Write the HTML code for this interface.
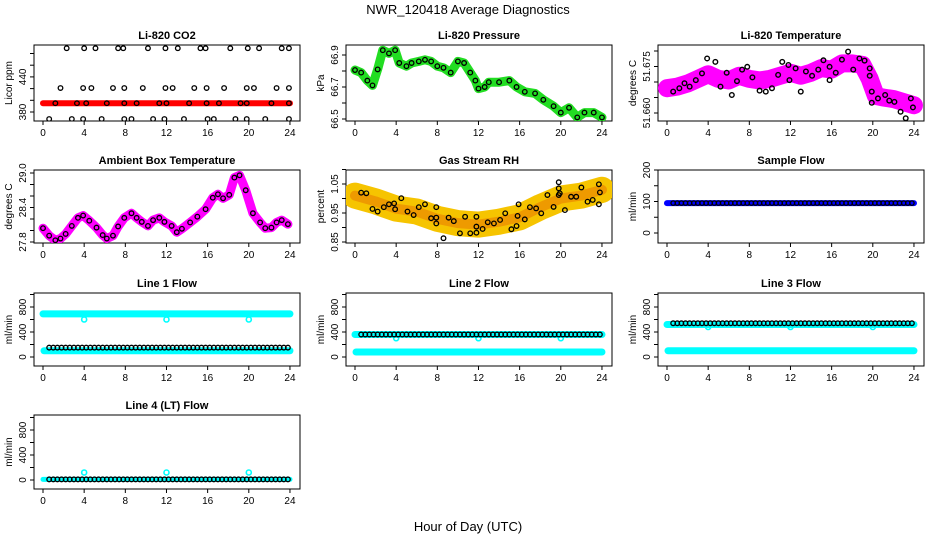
<!DOCTYPE html>
<html><head><meta charset="utf-8">
<style>
html,body{margin:0;padding:0;background:#fff;}
svg{display:block;font-family:"Liberation Sans",Arial,sans-serif;}
</style></head>
<body>
<svg id="chart" width="936" height="540" viewBox="0 0 936 540">
<text x="468" y="14" text-anchor="middle" font-size="13">NWR_120418  Average Diagnostics</text>
<text x="468" y="531" text-anchor="middle" font-size="13">Hour of Day (UTC)</text>
</svg>
<script>
// ---------------- data ----------------
const xTicks = [0,4,8,12,16,20,24];

// CO2 (ppm)
const co2Hours = [0,24];
const co2Band = [395,395];
const co2TopHours = [2.3,4.0,5.1,7.3,7.8,10.2,11.9,13.1,15.3,15.8,18.2,19.9,21.0,23.2,23.9];
const co2MidHours = [1.7,3.9,4.7,6.8,7.9,9.7,11.9,12.6,14.7,15.9,17.6,19.8,20.5,22.7,23.9];
const co2LineHours = [1.2,3.3,4.2,6.2,7.9,9.1,11.3,12.0,14.2,15.9,17.1,19.2,19.8,22.2,23.9];
const co2LowHours = [0.6,2.8,3.9,5.7,7.9,8.6,10.7,11.8,13.7,16.0,16.6,18.7,19.8,21.6,23.9];
const co2Levels = [489,421,395,368];

// Pressure (kPa)
const presHours = [0,0.6,1.2,1.7,2.2,2.7,3.3,3.9,4.3,5,5.5,6.2,6.8,7.4,8,8.6,9.3,10,10.6,11.2,11.7,12,12.6,13,14,15,15.7,16.5,17.5,18.3,19.3,20,20.8,21.6,22.3,23.2,24];
const presVals = [66.806,66.79,66.74,66.71,66.81,66.93,66.91,66.93,66.85,66.83,66.85,66.86,66.87,66.86,66.83,66.82,66.79,66.86,66.85,66.79,66.74,66.69,66.70,66.73,66.73,66.74,66.70,66.67,66.66,66.62,66.58,66.54,66.57,66.51,66.54,66.54,66.51];

// Li-820 temperature (deg C)
const ltHours = [0.6,1.2,1.7,2.2,2.8,3.4,3.9,4.7,5.2,5.8,6.3,6.8,7.3,7.8,8.3,9,9.6,10.2,10.8,11.2,11.8,11.9,12.5,13,13.5,14.1,14.7,15.2,15.8,15.8,16.4,17,17.6,18.1,18.7,19.2,19.7,19.7,19.9,19.9,20.5,21.2,21.6,22.1,22.7,23.2,23.7,23.9];
const ltVals = [51.6669,51.668,51.6696,51.6685,51.6706,51.6728,51.6776,51.6765,51.6685,51.673,51.6658,51.6703,51.674,51.6749,51.6715,51.6672,51.6669,51.668,51.6723,51.6765,51.6755,51.6706,51.6744,51.6669,51.6734,51.672,51.674,51.677,51.6749,51.6706,51.673,51.6772,51.6798,51.674,51.6776,51.6769,51.6744,51.672,51.6669,51.6633,51.6647,51.6658,51.664,51.6636,51.6604,51.6583,51.6647,51.6618];
const ltBandHours = [0,1,2,3,4,5,6,7,8,9,10,11,12,13,14,15,16,17,18,19,19.7,20.3,21,22,23,24];
const ltBandVals = [51.668,51.6685,51.6695,51.671,51.6725,51.671,51.6705,51.672,51.671,51.6705,51.671,51.672,51.673,51.672,51.673,51.6745,51.674,51.676,51.676,51.6755,51.671,51.6655,51.665,51.6645,51.6635,51.6625];

// Ambient box temperature (deg C)
const ambHours = [0,0.6,1.2,1.7,2.2,2.8,3.4,3.9,4.5,5.2,5.8,6.2,6.8,7.3,7.9,8.6,9.1,9.6,10.2,10.7,11.3,11.8,12.5,13,13.5,14.3,15,15.8,16.5,17,17.5,18.1,18.6,19.1,19.7,20.4,21.1,21.6,22.2,22.7,23.2,23.8];
const ambVals = [28.04,27.91,27.83,27.86,27.94,28.08,28.22,28.26,28.17,28.05,27.92,27.86,27.91,28.07,28.22,28.30,28.22,28.15,28.08,28.18,28.22,28.15,28.08,27.97,28.03,28.14,28.24,28.37,28.57,28.63,28.56,28.62,28.92,28.96,28.70,28.30,28.14,28.04,28.05,28.14,28.18,28.11];

// Gas stream RH (percent)
const rhHours = [0.6,1.1,1.7,2.2,2.8,3.3,3.8,3.9,4.5,5.1,5.7,6.2,6.8,7.4,7.9,7.9,7.9,8.6,9.1,9.6,10.2,10.7,11.2,11.8,11.8,11.8,12.4,12.9,13.5,14.1,14.6,15.2,15.7,15.8,15.9,16.5,17,17.6,18.1,18.7,19.3,19.8,19.8,19.8,19.9,20.4,21,21.5,22,22.6,23.1,23.7,23.8,23.7];
const rhVals = [1.020,1.018,0.964,0.955,0.970,0.980,0.983,0.963,1.001,0.955,0.943,0.970,0.980,0.932,0.970,0.934,0.914,0.863,0.934,0.922,0.880,0.937,0.880,0.937,0.903,0.882,0.895,0.918,0.914,0.926,0.949,0.894,0.905,0.940,0.980,0.928,0.970,0.966,0.949,1.012,0.971,1.056,1.012,1.035,1.018,0.960,1.006,1.006,1.038,0.989,0.995,1.049,1.021,0.980];
const rhBandHours = [0,2,4,6,8,10,12,14,16,18,19,20,22,24];
const rhBandVals = [1.01,0.99,0.965,0.955,0.93,0.915,0.91,0.92,0.935,0.97,0.985,1.0,1.01,1.03];

// Flows (ml/min): constant segments [startHour, endHour, value]
const sampleBlue = [[0,24,95]];
const sampleBlack = [[0.6,23.9,95]];
const line1Cyan = [[0,24,690],[0.1,24,100]];
const line1Black = [[0.6,23.9,150]];
const line2Cyan = [[0,24,360],[0.1,24,80]];
const line2Black = [[0.6,23.9,360]];
const line3Cyan = [[0,24,520],[0.1,24,100]];
const line3Black = [[0.6,23.9,540]];
const line4Cyan = [[0,24,10]];
const line4Black = [[0.6,23.9,10]];
const dipHours = [4,12,20];
const line1Dips = [600,600,600];
const line2Dips = [300,300,300];
const line3Dips = [480,480,480];
const line4Dips = [120,120,120];

// ---------------- drawing ----------------
const svg = document.getElementById('chart');
const NS = 'http://www.w3.org/2000/svg';
const colLeft = [34,346,658];
const rowTop = [45,170,293,415];
const rowBot = [121,243,366,489];

function mk(tag, attrs, parent){
  const e = document.createElementNS(NS, tag);
  for (const k in attrs) e.setAttribute(k, attrs[k]);
  (parent||svg).appendChild(e);
  return e;
}

function panel(col,row,title,ylab,yv0,yp0,ppu,ticks,labels,fmt,name){
  const g = mk('g',{});
  
  
  const L = colLeft[col], T = rowTop[row], B = rowBot[row], R = L+266;
  const xs = h => L+9+h*10.29;
  const ys = v => yp0 - (v-yv0)*ppu;
  const t = mk('text',{x:(L+R)/2,y:T-6,'text-anchor':'middle','font-size':'11','font-weight':'bold'},g);
  t.textContent = title;
  
  
  const box = mk('rect',{x:L,y:T,width:R-L,height:B-T,fill:'none',stroke:'#000','stroke-width':1},g);
  
  
  const xa = mk('g',{},g);
  
  
  xTicks.forEach(h=>{
    mk('line',{x1:xs(h),x2:xs(h),y1:B,y2:B+4,stroke:'#000'},xa);
    const tl = mk('text',{x:xs(h),y:B+15,'text-anchor':'middle','font-size':'10'},xa);
    tl.textContent = h;
  });
  const ya = mk('g',{},g);
  
  
  ticks.forEach(v=>{ mk('line',{x1:L-4,x2:L,y1:ys(v),y2:ys(v),stroke:'#000'},ya); });
  labels.forEach(v=>{
    const y = ys(v);
    const tl = mk('text',{x:L-8,y:y,'text-anchor':'middle','font-size':'10',transform:`rotate(-90 ${L-8} ${y})`},ya);
    tl.textContent = fmt(v);
  });
  const yt = mk('text',{x:L-22,y:(T+B)/2,'text-anchor':'middle','font-size':'10',transform:`rotate(-90 ${L-22} ${(T+B)/2})`},g);
  yt.textContent = ylab;
  
  
  const clip = 'clip'+name;
  const cp = mk('clipPath',{id:clip},g);
  mk('rect',{x:L,y:T,width:R-L,height:B-T},cp);
  const d = mk('g',{'clip-path':`url(#${clip})`},g);
  
  
  return {xs,ys,d};
}

function pts(p,hours,vals,color,r,sw,name){
  const g = mk('g',{},p.d);
  
  
  hours.forEach((h,i)=>{
    mk('circle',{cx:p.xs(h),cy:p.ys(vals[i]),r:r,fill:'none',stroke:color,'stroke-width':sw},g);
  });
}
function band(p,hours,vals,color,w,name){
  const pl = mk('polyline',{points:hours.map((h,i)=>p.xs(h)+','+p.ys(vals[i])).join(' '),fill:'none',stroke:color,'stroke-width':w,'stroke-linejoin':'round','stroke-linecap':'round'},p.d);
  
  
}
function segCircles(p,segs,color,r,sw,name){
  const g = mk('g',{},p.d);
  
  
  segs.forEach(s=>{
    for(let h=s[0]; h<=s[1]+1e-6; h+=0.4){
      mk('circle',{cx:p.xs(h),cy:p.ys(s[2]),r:r,fill:'none',stroke:color,'stroke-width':sw},g);
    }
  });
}
function segBand(p,segs,color,w,name){
  const g = mk('g',{},p.d);
  
  
  segs.forEach(s=>{
    mk('line',{x1:p.xs(s[0]),x2:p.xs(s[1]),y1:p.ys(s[2]),y2:p.ys(s[2]),stroke:color,'stroke-width':w,'stroke-linecap':'round'},g);
  });
}
const f0 = v=>String(v);
const f1 = v=>v.toFixed(1);
const f2 = v=>v.toFixed(2);
const f3 = v=>v.toFixed(3);

// CO2
let p = panel(0,0,'Li-820 CO2','Licor ppm',380,112,0.585,[380,400,420,440,460,480],[380,440],f0,'co2');
band(p,co2Hours,co2Band,'#ff0000',6,'co2-red-band');
[co2TopHours,co2MidHours,co2LineHours,co2LowHours].forEach((hs,i)=>pts(p,hs,hs.map(()=>co2Levels[i]),'#000',2.3,1.3,'co2-points-'+i));

// Pressure
p = panel(1,0,'Li-820 Pressure','kPa',66.5,119,160,[66.5,66.6,66.7,66.8,66.9],[66.5,66.7,66.9],f1,'pressure');
band(p,presHours,presVals,'#22dd22',9,'pressure-green-band');
pts(p,presHours,presVals,'#000',2.3,1.3,'pressure-points');

// Li-820 temperature
p = panel(2,0,'Li-820 Temperature','degrees C',51.66,113,3100,[51.66,51.665,51.67,51.675,51.68],[51.66,51.675],f3,'li820-temp');
band(p,ltBandHours,ltBandVals,'#ff00ff',18,'li820-temp-magenta-band');
pts(p,ltHours,ltVals,'#000',2.3,1.4,'li820-temp-points');

// Ambient
p = panel(0,1,'Ambient Box Temperature','degrees C',27.8,242,57.5,[27.8,28.0,28.2,28.4,28.6,28.8,29.0],[27.8,28.4,29.0],f1,'ambient-temp');
band(p,ambHours,ambVals,'#ff00ff',9,'ambient-magenta-band');
pts(p,ambHours,ambVals,'#000',2.3,1.3,'ambient-points');

// RH
p = panel(1,1,'Gas Stream RH','percent',0.85,242,290,[0.85,0.9,0.95,1.0,1.05,1.1],[0.85,0.95,1.05],f2,'gas-rh');
band(p,rhBandHours,rhBandVals,'#f6c400',26,'rh-yellow-band');
band(p,rhBandHours,rhBandVals,'#ee9a00',10,'rh-orange-core');
pts(p,rhHours,rhVals,'#000',2.3,1.3,'rh-points');

// Sample flow
p = panel(2,1,'Sample Flow','ml/min',0,233,0.315,[0,50,100,150,200],[0,100,200],f0,'sample-flow');
segBand(p,sampleBlue,'#0000ff',6,'sample-blue-band');
segCircles(p,sampleBlack,'#000',2.2,1.3,'sample-points');

// Line flows
const flows = [
  [0,2,'Line 1 Flow',line1Cyan,line1Black,line1Dips,'line1-flow',7],
  [1,2,'Line 2 Flow',line2Cyan,line2Black,line2Dips,'line2-flow',7],
  [2,2,'Line 3 Flow',line3Cyan,line3Black,line3Dips,'line3-flow',7],
  [0,3,'Line 4 (LT) Flow',line4Cyan,line4Black,line4Dips,'line4-flow',5]
];
flows.forEach(f=>{
  const q = panel(f[0],f[1],f[2],'ml/min',0,rowBot[f[1]]-9,0.0625,[0,200,400,600,800,1000],[0,400,800],f0,f[6]);
  segBand(q,f[3],'#00ffff',f[7],f[6]+'-cyan-band');
  pts(q,dipHours,f[5],'#00ffff',2.5,1.6,f[6]+'-cyan-dips');
  segCircles(q,f[4],'#000',2.3,1.3,f[6]+'-points');
});
</script>
</body></html>
